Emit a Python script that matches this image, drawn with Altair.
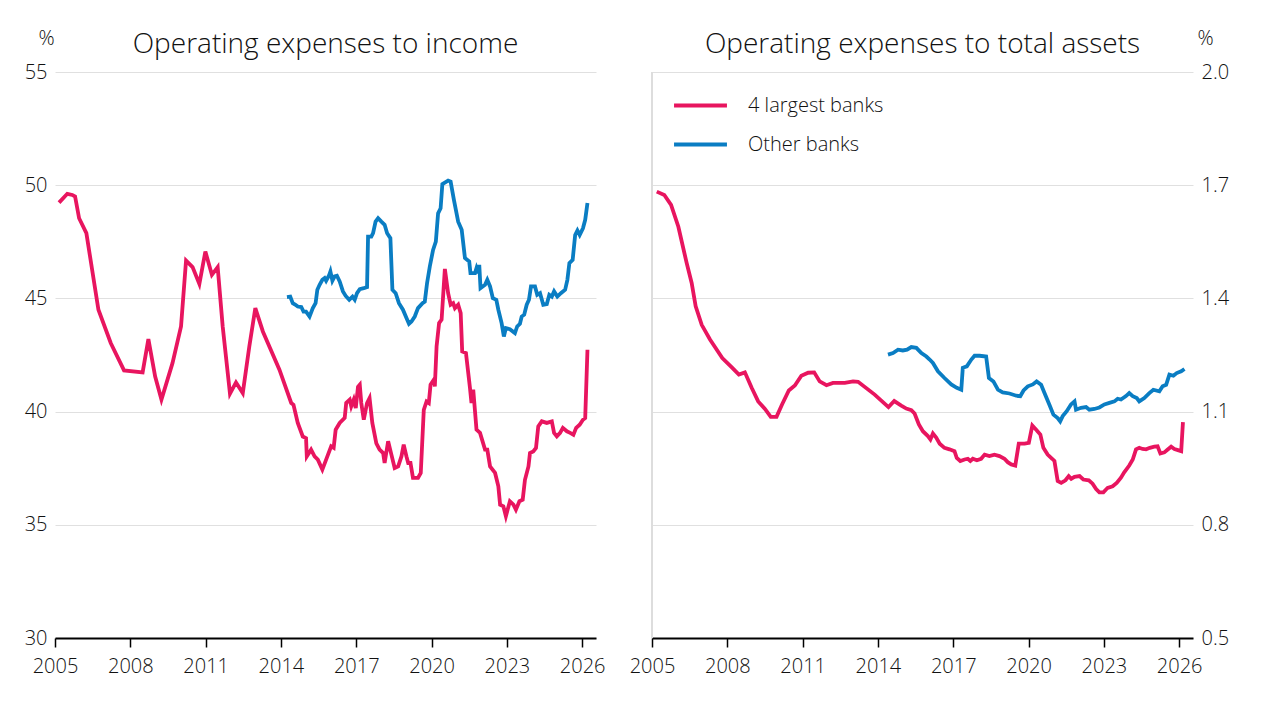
import altair as alt
import pandas as pd

# ---------------- data ----------------
years_inc_major = [2005.16, 2005.49, 2005.69, 2005.8, 2005.96, 2006.25, 2006.73, 2007.22, 2007.75, 2008.49,
                   2008.72, 2008.99, 2009.24, 2009.68, 2010.02, 2010.22, 2010.48, 2010.75, 2010.99, 2011.25,
                   2011.48, 2011.68, 2011.97, 2012.21, 2012.48, 2012.74, 2012.98, 2013.28, 2013.94, 2014.41,
                   2014.5, 2014.67, 2014.87, 2015.0, 2015.03, 2015.2, 2015.34, 2015.47, 2015.65, 2015.8,
                   2016.0, 2016.1, 2016.18, 2016.34, 2016.54, 2016.6, 2016.74, 2016.8, 2016.9, 2016.98,
                   2017.07, 2017.14, 2017.2, 2017.3, 2017.43, 2017.53, 2017.64, 2017.8, 2017.93, 2018.07,
                   2018.13, 2018.27, 2018.4, 2018.53, 2018.67, 2018.8, 2018.89, 2019.0, 2019.07, 2019.16,
                   2019.26, 2019.46, 2019.57, 2019.69, 2019.8, 2019.89, 2019.96, 2020.09, 2020.13, 2020.2,
                   2020.3, 2020.4, 2020.53, 2020.66, 2020.76, 2020.86, 2020.93, 2021.06, 2021.16, 2021.22,
                   2021.37, 2021.53, 2021.59, 2021.66, 2021.79, 2021.93, 2022.13, 2022.22, 2022.33, 2022.53,
                   2022.66, 2022.73, 2022.86, 2022.96, 2023.12, 2023.26, 2023.36, 2023.5, 2023.63, 2023.72,
                   2023.86, 2023.92, 2024.05, 2024.16, 2024.25, 2024.39, 2024.59, 2024.79, 2024.88, 2024.99,
                   2025.12, 2025.23, 2025.39, 2025.52, 2025.65, 2025.76, 2025.9, 2026.03, 2026.12, 2026.21]
inc_major = [49.23, 49.62, 49.57, 49.5, 48.54, 47.88, 44.5, 43.03, 41.82, 41.73,
             43.2, 41.55, 40.53, 42.14, 43.76, 46.67, 46.38, 45.64, 47.07, 46.04,
             46.38, 43.76, 40.79, 41.29, 40.82, 42.88, 44.57, 43.54, 41.85, 40.38,
             40.3, 39.5, 38.9, 38.83, 38.02, 38.32, 38.02, 37.88, 37.44, 37.88,
             38.47, 38.4, 39.2, 39.5, 39.72, 40.38, 40.53, 40.23, 40.53, 40.16,
             41.1, 41.19, 40.38, 39.64, 40.38, 40.6, 39.5, 38.6, 38.32, 38.17,
             37.73, 38.69, 38.1, 37.51, 37.58, 38.02, 38.54, 38.02, 37.73, 37.73,
             37.07, 37.07, 37.29, 40.08, 40.45, 40.38, 41.19, 41.41, 41.11, 42.88,
             43.91, 44.06, 46.3, 45.23, 44.72, 44.79, 44.57, 44.72, 44.35, 42.66,
             42.59, 41.04, 40.38, 40.97, 39.2, 39.06, 38.32, 38.32, 37.58, 37.29,
             36.7, 35.89, 35.82, 35.38, 36.04, 35.89, 35.67, 36.04, 36.11, 36.99,
             37.58, 38.17, 38.24, 38.39, 39.35, 39.57, 39.5, 39.57, 39.06, 38.91,
             39.06, 39.28, 39.13, 39.06, 38.98, 39.28, 39.42, 39.64, 39.72, 42.73]

years_inc_other = [2014.24, 2014.37, 2014.47, 2014.58, 2014.67, 2014.81, 2014.9, 2015.0, 2015.14, 2015.27,
                   2015.38, 2015.45, 2015.54, 2015.65, 2015.74, 2015.8, 2015.91, 2015.97, 2016.05, 2016.14,
                   2016.23, 2016.34, 2016.47, 2016.58, 2016.72, 2016.85, 2016.94, 2017.03, 2017.14, 2017.3,
                   2017.43, 2017.47, 2017.6, 2017.67, 2017.77, 2017.87, 2018.0, 2018.13, 2018.23, 2018.36,
                   2018.44, 2018.57, 2018.7, 2018.86, 2019.0, 2019.1, 2019.2, 2019.33, 2019.46, 2019.64,
                   2019.73, 2019.82, 2019.93, 2020.06, 2020.17, 2020.26, 2020.36, 2020.43, 2020.66, 2020.76,
                   2020.89, 2021.06, 2021.2, 2021.33, 2021.5, 2021.55, 2021.73, 2021.79, 2021.86, 2021.9,
                   2021.95, 2022.13, 2022.22, 2022.33, 2022.44, 2022.58, 2022.66, 2022.79, 2022.88, 2022.96,
                   2023.12, 2023.32, 2023.41, 2023.52, 2023.59, 2023.69, 2023.79, 2023.88, 2023.96, 2024.12,
                   2024.21, 2024.32, 2024.45, 2024.59, 2024.69, 2024.79, 2024.88, 2025.01, 2025.15, 2025.32,
                   2025.41, 2025.49, 2025.62, 2025.72, 2025.81, 2025.9, 2026.03, 2026.12, 2026.21]
inc_other = [45.06, 45.08, 44.79, 44.72, 44.64, 44.62, 44.42, 44.42, 44.2, 44.57,
             44.79, 45.38, 45.6, 45.82, 45.9, 45.78, 46.0, 46.19, 45.78, 45.97,
             46.0, 45.75, 45.31, 45.11, 44.94, 45.08, 44.94, 45.23, 45.41, 45.45,
             45.5, 47.73, 47.73, 47.88, 48.39, 48.54, 48.39, 48.25, 47.88, 47.66,
             45.38, 45.23, 44.79, 44.5, 44.13, 43.88, 43.98, 44.2, 44.57, 44.79,
             44.86, 45.67, 46.41, 47.14, 47.51, 48.76, 48.98, 50.05, 50.2, 50.16,
             49.35, 48.39, 48.03, 46.78, 46.63, 46.12, 46.12, 46.34, 46.12, 46.48,
             45.45, 45.6, 45.82, 45.53, 45.01, 44.94, 44.5, 43.91, 43.32, 43.69,
             43.64, 43.47, 43.76, 43.88, 44.2, 44.28, 44.72, 44.94, 45.53, 45.53,
             45.16, 45.23, 44.72, 44.75, 45.16, 45.08, 45.31, 45.08, 45.23, 45.38,
             45.82, 46.56, 46.7, 47.8, 48.0, 47.8, 48.1, 48.47, 49.21]

years_ast_major = [2005.19, 2005.49, 2005.76, 2006.05, 2006.38, 2006.58, 2006.74, 2006.98, 2007.31, 2007.8,
                   2008.2, 2008.46, 2008.7, 2008.97, 2009.23, 2009.5, 2009.73, 2009.96, 2010.18, 2010.45,
                   2010.69, 2010.95, 2011.22, 2011.46, 2011.68, 2011.95, 2012.21, 2012.68, 2013.01, 2013.21,
                   2013.87, 2014.42, 2014.65, 2014.93, 2015.13, 2015.33, 2015.46, 2015.63, 2015.79, 2015.99,
                   2016.09, 2016.19, 2016.32, 2016.46, 2016.65, 2016.85, 2017.05, 2017.14, 2017.28, 2017.45,
                   2017.58, 2017.68, 2017.78, 2017.94, 2018.11, 2018.25, 2018.44, 2018.64, 2018.84, 2019.04,
                   2019.17, 2019.31, 2019.47, 2019.61, 2019.84, 2020.01, 2020.15, 2020.33, 2020.47, 2020.59,
                   2020.76, 2020.94, 2021.03, 2021.16, 2021.3, 2021.47, 2021.6, 2021.7, 2021.83, 2022.03,
                   2022.18, 2022.4, 2022.55, 2022.69, 2022.82, 2022.98, 2023.15, 2023.35, 2023.51, 2023.68,
                   2023.81, 2024.01, 2024.15, 2024.28, 2024.41, 2024.54, 2024.68, 2024.83, 2025.01, 2025.14,
                   2025.25, 2025.41, 2025.52, 2025.68, 2025.81, 2025.95, 2026.08, 2026.15]
ast_major = [1.683, 1.674, 1.648, 1.590, 1.494, 1.441, 1.379, 1.330, 1.291, 1.242,
             1.216, 1.198, 1.204, 1.163, 1.127, 1.107, 1.086, 1.086, 1.119, 1.156,
             1.169, 1.195, 1.203, 1.204, 1.180, 1.170, 1.176, 1.176, 1.180, 1.179,
             1.145, 1.112, 1.128, 1.116, 1.108, 1.104, 1.095, 1.066, 1.048, 1.035,
             1.026, 1.042, 1.031, 1.015, 1.004, 1.0, 0.995, 0.977, 0.969, 0.973,
             0.975, 0.969, 0.975, 0.971, 0.975, 0.986, 0.982, 0.986, 0.982, 0.975,
             0.966, 0.960, 0.957, 1.015, 1.015, 1.017, 1.063, 1.050, 1.039, 1.004,
             0.986, 0.975, 0.969, 0.916, 0.911, 0.918, 0.929, 0.922, 0.927, 0.929,
             0.920, 0.918, 0.909, 0.895, 0.886, 0.886, 0.898, 0.902, 0.911, 0.925,
             0.939, 0.957, 0.973, 1.0, 1.004, 1.001, 1.0, 1.004, 1.007, 1.008,
             0.989, 0.992, 0.998, 1.007, 1.001, 0.998, 0.995, 1.072]

years_ast_other = [2014.4, 2014.6, 2014.8, 2014.99, 2015.16, 2015.33, 2015.53, 2015.73, 2015.93, 2016.06,
                   2016.19, 2016.39, 2016.65, 2016.92, 2017.14, 2017.32, 2017.38, 2017.54, 2017.72, 2017.85,
                   2018.05, 2018.31, 2018.42, 2018.6, 2018.78, 2018.97, 2019.24, 2019.51, 2019.67, 2019.8,
                   2019.97, 2020.17, 2020.32, 2020.5, 2020.63, 2020.83, 2020.99, 2021.16, 2021.26, 2021.36,
                   2021.52, 2021.69, 2021.83, 2021.89, 2022.09, 2022.29, 2022.42, 2022.62, 2022.82, 2023.02,
                   2023.22, 2023.42, 2023.55, 2023.68, 2023.88, 2024.01, 2024.15, 2024.31, 2024.41, 2024.61,
                   2024.81, 2024.97, 2025.21, 2025.34, 2025.48, 2025.61, 2025.77, 2025.9, 2026.08, 2026.21]
ast_other = [1.251, 1.255, 1.264, 1.262, 1.264, 1.271, 1.269, 1.255, 1.246, 1.238,
             1.229, 1.207, 1.189, 1.172, 1.163, 1.158, 1.216, 1.220, 1.238, 1.248,
             1.248, 1.246, 1.189, 1.180, 1.158, 1.151, 1.148, 1.142, 1.141, 1.156,
             1.167, 1.172, 1.180, 1.171, 1.150, 1.118, 1.092, 1.083, 1.074, 1.088,
             1.101, 1.119, 1.127, 1.105, 1.110, 1.112, 1.105, 1.107, 1.111, 1.119,
             1.123, 1.127, 1.134, 1.132, 1.141, 1.149, 1.141, 1.136, 1.127, 1.136,
             1.149, 1.158, 1.154, 1.167, 1.171, 1.198, 1.195, 1.202, 1.207, 1.213]

series_names = ["4 largest banks", "Other banks"]
series_colors = ["#E8155F", "#0A7DC3"]
x_ticks = [2005, 2008, 2011, 2014, 2017, 2020, 2023, 2026]
y_ticks_income = [30, 35, 40, 45, 50, 55]
y_ticks_assets = [0.5, 0.8, 1.1, 1.4, 1.7, 2.0]

# ---------------- tables ----------------
def frame(xs, ys, name):
    assert len(xs) == len(ys), name
    return pd.DataFrame({"year": xs, "value": ys, "series": name})

df_income = pd.concat([frame(years_inc_major, inc_major, series_names[0]),
                       frame(years_inc_other, inc_other, series_names[1])])
df_assets = pd.concat([frame(years_ast_major, ast_major, series_names[0]),
                       frame(years_ast_other, ast_other, series_names[1])])

FONT = "Open Sans"
LW = 300
TXT = "#111111"
W, H = 541, 566
XDOM = [2005, 2026.55]
LINE_W = 3.8

x_axis = alt.Axis(values=x_ticks, format="d", title=None, grid=False,
                  domain=True, domainColor="#000000", domainWidth=2,
                  ticks=True, tickColor="#000000", tickSize=9, tickWidth=1.5,
                  labelFontSize=20, labelPadding=9, labelColor=TXT, labelFontWeight=LW,
                  labelFont=FONT, labelFlush=False, labelOverlap=False)

def title(text):
    return alt.TitleParams(text, fontSize=28, fontWeight=LW, font=FONT,
                           color=TXT, anchor="middle", baseline="alphabetic", offset=-53)

color_scale = alt.Scale(domain=series_names, range=series_colors)

left = alt.Chart(df_income).mark_line(strokeWidth=LINE_W).encode(
    x=alt.X("year:Q", scale=alt.Scale(domain=XDOM, nice=False, zero=False), axis=x_axis),
    y=alt.Y("value:Q", scale=alt.Scale(domain=[30, 55], nice=False, zero=False),
            axis=alt.Axis(values=y_ticks_income, grid=True, gridColor="#e0e0e0", gridWidth=1,
                          domain=False, ticks=False, labelFontSize=20, labelPadding=8,
                          labelColor=TXT, labelFont=FONT, labelFontWeight=LW,
                          title="%", titleAngle=0, titleX=-9, titleY=-34, titleAlign="center",
                          titleBaseline="middle", titleFontSize=20, titleFontWeight=LW,
                          titleFont=FONT, titleColor=TXT)),
    color=alt.Color("series:N", scale=color_scale, legend=None),
    detail="series:N",
).properties(width=W, height=H, title=title("Operating expenses to income"))

right_lines = alt.Chart(df_assets).mark_line(strokeWidth=LINE_W).encode(
    x=alt.X("year:Q", scale=alt.Scale(domain=XDOM, nice=False, zero=False), axis=x_axis),
    y=alt.Y("value:Q", scale=alt.Scale(domain=[0.5, 2.0], nice=False, zero=False),
            axis=alt.Axis(orient="right", values=y_ticks_assets, format=".1f", grid=True,
                          gridColor="#e0e0e0", gridWidth=1, domain=False, ticks=False,
                          labelFontSize=20, labelPadding=8, labelColor=TXT, labelFont=FONT,
                          labelFontWeight=LW,
                          title="%", titleAngle=0, titleX=12, titleY=-34, titleAlign="center",
                          titleBaseline="middle", titleFontSize=20, titleFontWeight=LW,
                          titleFont=FONT, titleColor=TXT)),
    color=alt.Color("series:N", scale=color_scale,
                    legend=alt.Legend(title=None, orient="none", legendX=20, legendY=5, padding=0,
                                      symbolType="stroke", symbolSize=2800, symbolStrokeWidth=4,
                                      labelFontSize=20, labelFont=FONT, labelColor=TXT,
                                      labelFontWeight=LW, labelOffset=19, rowPadding=0)),
)

left_edge = alt.Chart(df_assets).mark_rule(color="#dddddd", strokeWidth=1.5).encode(
    x=alt.value(0), y=alt.value(0), y2=alt.value(H))

right = alt.layer(left_edge, right_lines).properties(
    width=W, height=H, title=title("Operating expenses to total assets"))

chart = alt.hconcat(left, right, spacing=23).resolve_scale(color="independent").properties(
    padding={"left": 24, "top": 28, "right": 10, "bottom": 4}, background="white"
).configure_view(strokeWidth=0, stroke="transparent")

chart.save("out.html", embed_options={"renderer": "svg", "actions": False})
